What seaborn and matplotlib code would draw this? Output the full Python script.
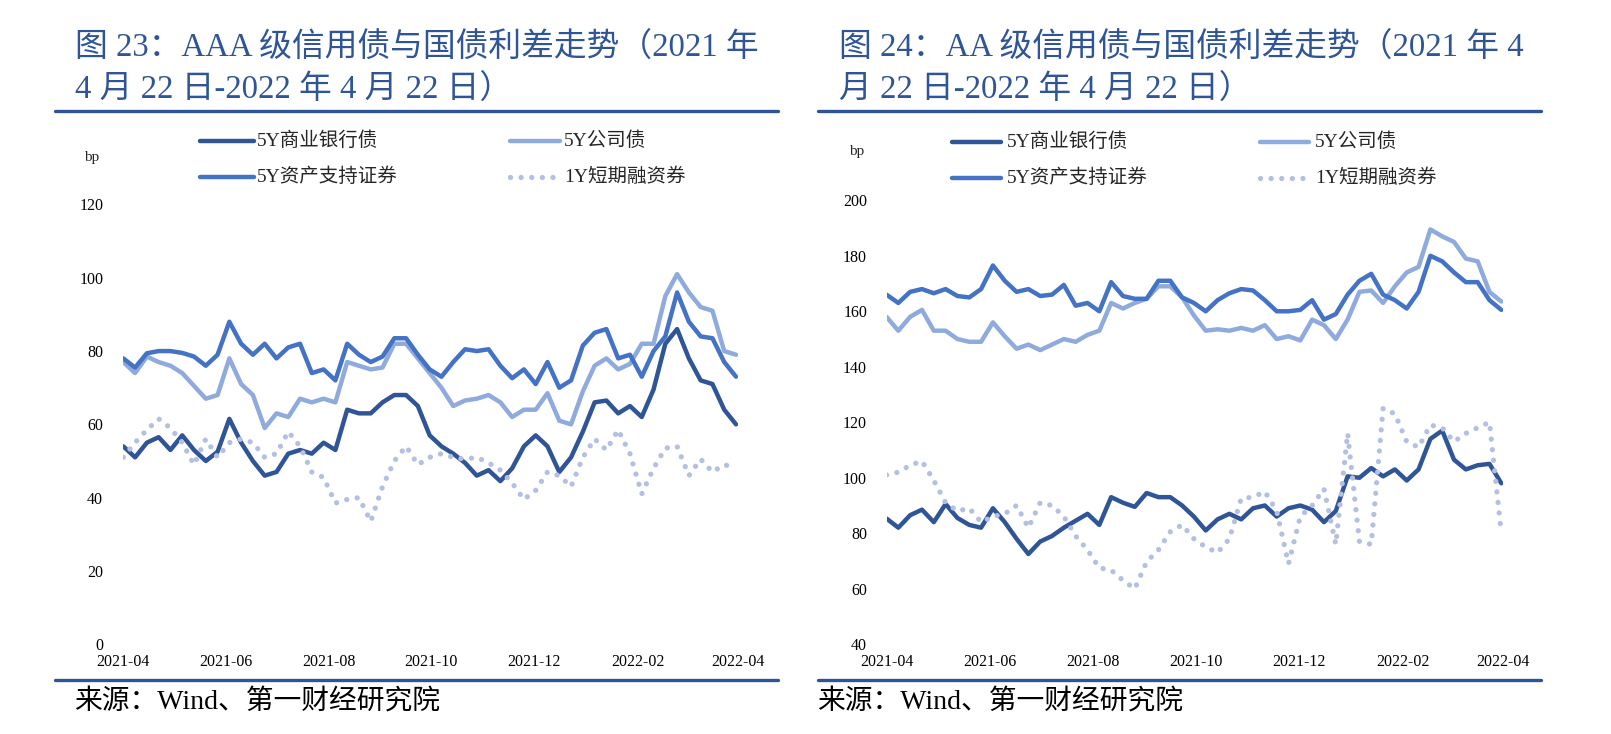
import numpy as np
import pandas as pd
import matplotlib
matplotlib.use("Agg")
import matplotlib.pyplot as plt
from matplotlib.lines import Line2D
import seaborn as sns

# ---------------- data (weekly readings, bp) ----------------
START_DATE = "2021-04-22"
END_DATE = "2022-04-22"
N_POINTS = 53
series_names = ["5Y商业银行债", "5Y公司债", "5Y资产支持证券", "1Y短期融资券"]
x_tick_dates = ["2021-04-22", "2021-06-22", "2021-08-22", "2021-10-22",
                "2021-12-22", "2022-02-22", "2022-04-22"]
x_tick_labels = ["2021-04", "2021-06", "2021-08", "2021-10",
                 "2021-12", "2022-02", "2022-04"]

# AAA panel
aaa_bank = [54, 51, 55, 56.5, 53, 57, 53, 50, 52.5, 61.5,
            55, 50, 46, 47, 52, 53, 52, 55, 53, 64,
            63, 63, 66, 68, 68, 65, 57, 54, 52, 49.5,
            46, 47.5, 44.5, 48, 54, 57, 54, 47, 51, 58,
            66, 66.5, 63, 65, 62, 69.5, 82, 86, 78, 72,
            71, 64, 60]
aaa_corp = [77, 74, 78.5, 77, 76, 74, 70.5, 67, 68, 78,
            71, 68, 59, 63, 62, 67, 66, 67, 66, 77,
            76, 75, 75.5, 82, 82, 78, 74, 70, 65, 66.5,
            67, 68, 66, 62, 64, 64, 68.5, 61, 60, 69,
            76, 78, 75, 76.5, 82, 82, 95, 101, 96, 92,
            91, 80, 79]
aaa_abs = [78, 75.5, 79.4, 80, 80, 79.5, 78.5, 76, 79, 88,
           82, 79, 82, 78, 81, 82, 74, 75, 72, 82,
           79, 77, 78.5, 83.5, 83.5, 79, 75, 73, 77, 80.5,
           80, 80.5, 76, 72.6, 75, 71, 77, 70, 72, 81.5,
           85, 86, 78, 79, 73, 80, 84, 96, 88, 84,
           83.5, 77, 73]
aaa_cp = [51, 55, 58.5, 61.5, 59, 55, 49, 56, 51, 55,
          56, 55, 51, 52, 58, 54, 47, 45.5, 38.5, 39.5,
          40, 33.5, 43, 50, 54, 49, 51, 52, 51, 50.5,
          51, 49.5, 47.5, 44, 39.5, 42, 47, 46, 43, 51,
          56, 53, 58.5, 52, 41, 48, 53.5, 54, 46, 50.5,
          47, 49, 48]

# AA panel
aa_bank = [85.3, 82, 86.5, 88.5, 84, 90.5, 85.5, 83, 82, 89,
           84, 78, 72.5, 77, 79, 82, 84.5, 87, 83, 93,
           91, 89.5, 94.5, 93, 93, 90, 86, 81, 85, 87,
           85, 89, 90, 86, 89, 90, 88.5, 84, 88, 100.5,
           100, 103.5, 100.5, 103, 99, 103, 114, 117, 106.5, 103,
           104.5, 105, 98]
aa_corp = [158, 153, 158, 160.5, 153, 153, 150, 149, 149, 156,
           151, 146.5, 148, 146, 148, 150, 149, 151.5, 153, 163,
           161, 163, 164.5, 169, 169, 165, 158.5, 153, 153.5, 153,
           154, 153, 155, 150, 151, 149.5, 157, 155, 150, 157,
           167, 167.5, 163, 169, 174, 176, 189.5, 187, 185, 179,
           178, 167, 163.5]
aa_abs = [166, 163, 167, 168, 166.5, 168, 165.5, 165, 168, 176.5,
          171, 167, 168, 165.5, 166, 169.5, 162, 163, 160, 170.5,
          165.5, 164.5, 164.5, 171, 171, 165, 163, 160, 164, 166.5,
          168, 167.5, 164, 160, 160, 160.5, 164, 157, 159, 166,
          171, 173.5, 166, 164, 161, 167, 180, 178, 174, 170.5,
          170.5, 164, 160.5]
aa_cp = [101, 102, 104.5, 106, 99, 91, 88, 89, 84, 86,
         87, 90, 82, 91, 90, 86, 79, 74, 67.5, 66.7,
         63, 60, 69.7, 74, 80.5, 83, 78, 75, 73, 78,
         92.5, 93, 95, 88, 69, 86, 90, 96, 76, 116,
         77, 76, 125, 123, 113, 111, 119, 118, 113, 116,
         118, 120, 80]

# ---------------- style ----------------
sns.set_theme(style="white")
plt.rcParams["font.family"] = ["Liberation Serif", "Noto Sans CJK SC", "DejaVu Sans"]

BLUE_TITLE = "#2F5597"
colors = {"5Y商业银行债": "#2F5597", "5Y公司债": "#8FAADC",
          "5Y资产支持证券": "#4472C4", "1Y短期融资券": "#B4C0E2"}
DOT = (0, (0.01, 2.0))
LW = 3.2
LW_DOT = 3.8

W, H = 1611, 734
fig = plt.figure(figsize=(W / 100, H / 100), dpi=100)


def fx(px):
    return px / W


def fy(py):
    return 1 - py / H


def make_df(vals):
    dates = pd.date_range(START_DATE, periods=N_POINTS, freq="7D")
    frames = []
    for name, v in zip(series_names, vals):
        frames.append(pd.DataFrame({"date": dates, "value": v, "series": name}))
    return pd.concat(frames, ignore_index=True)


def draw_panel(ax, df, ylim, yticks, ypad):
    for name in series_names:
        sub = df[df["series"] == name]
        is_dot = name == "1Y短期融资券"
        sns.lineplot(data=sub, x="date", y="value", ax=ax, color=colors[name],
                     linewidth=LW_DOT if is_dot else LW, legend=False,
                     estimator=None, sort=False)
        ln = ax.lines[-1]
        if is_dot:
            ln.set_linestyle(DOT)
            ln.set_dash_capstyle("round")
        else:
            ln.set_solid_joinstyle("round")
    ax.set_xlim(pd.Timestamp(START_DATE), pd.Timestamp(END_DATE))
    ax.set_ylim(*ylim)
    ax.set_yticks(yticks)
    ax.set_yticklabels([str(t) for t in yticks])
    ax.set_xticks(pd.to_datetime(x_tick_dates))
    ax.set_xticklabels(x_tick_labels)
    for s in ax.spines.values():
        s.set_visible(False)
    ax.tick_params(axis="both", length=0, labelsize=11.5, colors="#000000")
    ax.tick_params(axis="y", pad=ypad)
    ax.tick_params(axis="x", pad=7)
    ax.set_xlabel("")
    ax.set_ylabel("")
    ax.grid(False)


# axes positions (pixel-derived)
axL = fig.add_axes([fx(123.3), fy(644.2), fx(737.7 - 123.3), (644.2 - 204.5) / H])
axR = fig.add_axes([fx(886.5), fy(644.2), fx(1503 - 886.5), (644.2 - 200.3) / H])

draw_panel(axL, make_df([aaa_bank, aaa_corp, aaa_abs, aaa_cp]), (0, 120),
           [0, 20, 40, 60, 80, 100, 120], 14.5)
draw_panel(axR, make_df([aa_bank, aa_corp, aa_abs, aa_cp]), (40, 200),
           [40, 60, 80, 100, 120, 140, 160, 180, 200], 14)

# titles
TITLE_FS = 23.6
fig.text(fx(75), fy(47), "图 23：AAA 级信用债与国债利差走势（2021 年",
         fontsize=TITLE_FS, color=BLUE_TITLE, va="center", ha="left")
fig.text(fx(75), fy(89), "4 月 22 日-2022 年 4 月 22 日）",
         fontsize=TITLE_FS, color=BLUE_TITLE, va="center", ha="left")
fig.text(fx(839), fy(47), "图 24：AA 级信用债与国债利差走势（2021 年 4",
         fontsize=TITLE_FS, color=BLUE_TITLE, va="center", ha="left")
fig.text(fx(839), fy(89), "月 22 日-2022 年 4 月 22 日）",
         fontsize=TITLE_FS, color=BLUE_TITLE, va="center", ha="left")

# rules
for x0, x1 in [(55, 778), (818, 1541)]:
    for yy in (111, 680):
        fig.add_artist(Line2D([fx(x0), fx(x1)], [fy(yy), fy(yy)],
                              transform=fig.transFigure, color=BLUE_TITLE, lw=2.4))

# source
SRC_FS = 20
fig.text(fx(74), fy(702), "来源：Wind、第一财经研究院", fontsize=SRC_FS,
         color="#000000", va="center", ha="left")
fig.text(fx(817), fy(702), "来源：Wind、第一财经研究院", fontsize=SRC_FS,
         color="#000000", va="center", ha="left")

# bp unit labels
fig.text(fx(92), fy(157), "bp", fontsize=11, va="center", ha="center")
fig.text(fx(857), fy(152), "bp", fontsize=11, va="center", ha="center")

# legends (manual 2x2 layout)
LEG_FS = 14


def legend_block(x_cols, y_rows):
    order = [("5Y商业银行债", 0, 0), ("5Y公司债", 1, 0),
             ("5Y资产支持证券", 0, 1), ("1Y短期融资券", 1, 1)]
    for name, c, r in order:
        (h0, h1, tx) = x_cols[c]
        yy = y_rows[r]
        is_dot = name == "1Y短期融资券"
        ln = Line2D([fx(h0), fx(h1)], [fy(yy), fy(yy)], transform=fig.transFigure,
                    color=colors[name], lw=LW_DOT if is_dot else LW)
        if is_dot:
            ln.set_linestyle(DOT)
            ln.set_dash_capstyle("round")
        fig.add_artist(ln)
        fig.text(fx(tx), fy(yy), name, fontsize=LEG_FS, va="center", ha="left")


legend_block([(200, 254, 257), (510, 560, 564)], (141, 177))
legend_block([(952, 1001, 1007), (1260, 1309, 1315)], (142, 178))

fig.savefig("out.png", dpi=100)
